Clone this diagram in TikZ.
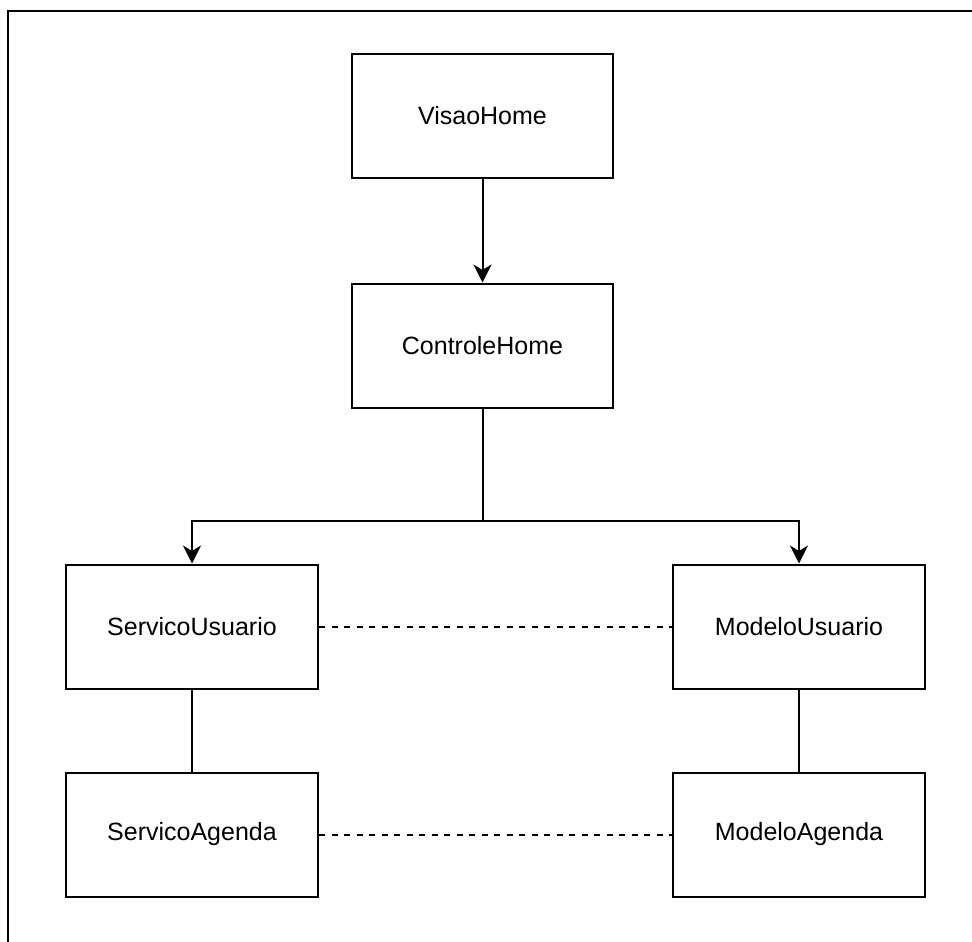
\documentclass[tikz,border=0pt]{standalone}
\usepackage{fontspec}
\setmainfont{Liberation Sans}
\usetikzlibrary{arrows.meta}
\begin{document}
\begin{tikzpicture}[x=1pt,y=-1pt,
  compbox/.style={draw=black, line width=2pt, fill=white, minimum width=261pt, minimum height=124pt, inner sep=0pt, font=\fontsize{25}{29}\selectfont},
  link/.style={draw=black, line width=2pt},
  arr/.style={link, -{Stealth[length=18pt, width=18pt, inset=5.5pt]}},
  dep/.style={draw=black, line width=2pt, dash pattern=on 6pt off 6.5pt}]
  \useasboundingbox (0,0) rectangle (972,942);
  % outer frame
  \draw[line width=2pt] (7.5,942) -- (7.5,11.5) -- (972,11.5);

  % components
  \node[compbox] (vh) at (482.5,116) {VisaoHome};
  \node[compbox] (ch) at (482.5,345.5) {ControleHome};
  \node[compbox, minimum width=252pt] (su) at (192,626.5) {ServicoUsuario};
  \node[compbox, minimum width=252pt] (mu) at (799,626.5) {ModeloUsuario};
  \node[compbox, minimum width=252pt] (sa) at (192,834.5) {ServicoAgenda};
  \node[compbox, minimum width=252pt] (ma) at (799,834.5) {ModeloAgenda};

  \coordinate (split) at (482.5,521);

  % connectors
  \draw[arr] (vh) -- (ch);
  \draw[link] (ch.south) -- (split);
  \draw[arr] (split) -| (su.north);
  \draw[arr] (split) -| (mu.north);
  \draw[link] (su) -- (sa);
  \draw[link] (mu) -- (ma);
  \draw[dep] (su) -- (mu);
  \draw[dep] (sa) -- (ma);
\end{tikzpicture}
\end{document}
